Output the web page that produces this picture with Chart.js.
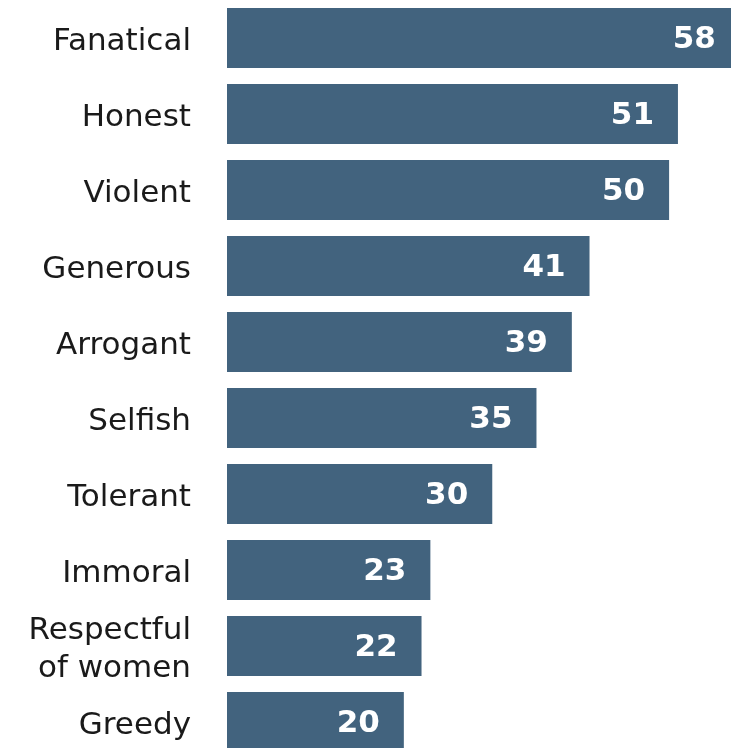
<!DOCTYPE html>
<html>
<head>
<meta charset="utf-8">
<script src="https://cdn.jsdelivr.net/npm/chart.js@4/dist/chart.umd.min.js"></script>
<style>
  html, body { margin: 0; padding: 0; background: #ffffff; overflow: hidden; }
</style>
</head>
<body>
<canvas id="barChart" width="731" height="760"></canvas>
<script>
// Categorías y valores
const categorias = ['Fanatical', 'Honest', 'Violent', 'Generous', 'Arrogant', 'Selfish',
                    'Tolerant', 'Immoral', ['Respectful', 'of women'], 'Greedy'];
const valores = [58, 51, 50, 41, 39, 35, 30, 23, 22, 20];

const colorBarra = '#42637e';

// Etiquetas blancas dentro de cada barra, cerca del final
const etiquetasValor = {
    id: 'etiquetasValor',
    afterDatasetsDraw(chart) {
        const ctx = chart.ctx;
        const meta = chart.getDatasetMeta(0);
        ctx.save();
        ctx.font = 'bold 31px "DejaVu Sans", Verdana, sans-serif';
        ctx.fillStyle = '#ffffff';
        ctx.textAlign = 'right';
        ctx.textBaseline = 'middle';
        meta.data.forEach((bar, i) => {
            ctx.fillText(String(valores[i]), bar.x - 24, bar.y + 2);
        });
        ctx.restore();
    }
};

const chart = new Chart(document.getElementById('barChart'), {
    type: 'bar',
    data: {
        labels: categorias,
        datasets: [{
            data: valores,
            backgroundColor: colorBarra,
            borderWidth: 0,
            categoryPercentage: 1,
            barPercentage: 0.79
        }]
    },
    options: {
        indexAxis: 'y',
        responsive: false,
        animation: false,
        layout: { padding: 0 },
        plugins: {
            legend: { display: false },
            tooltip: { enabled: false }
        },
        scales: {
            x: {
                display: false,
                min: 0,
                max: 57
            },
            y: {
                grid: { display: false, drawTicks: false },
                border: { display: false },
                ticks: {
                    autoSkip: false,
                    padding: 36,
                    labelOffset: 4,
                    color: '#1a1a1a',
                    font: { family: '"DejaVu Sans", Verdana, sans-serif', size: 31, lineHeight: 1.22 }
                },
                afterFit(scale) {
                    // ancho fijo del eje y sin relleno vertical extra
                    scale.width = 227;
                    scale.paddingTop = 0;
                    scale.paddingBottom = 0;
                }
            }
        }
    },
    plugins: [etiquetasValor]
});
</script>
</body>
</html>
